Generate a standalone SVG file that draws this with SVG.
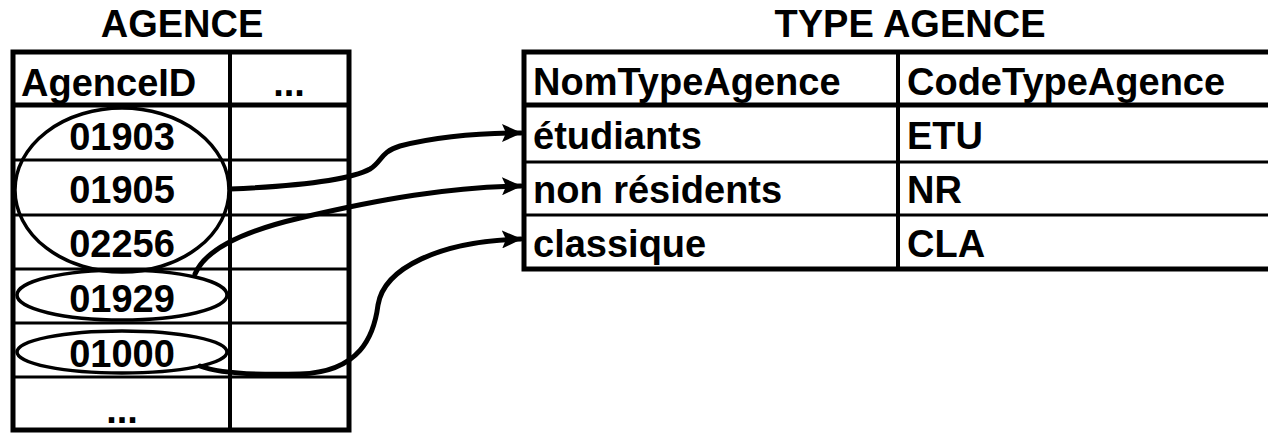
<svg xmlns="http://www.w3.org/2000/svg" width="1268" height="433" viewBox="0 0 1268 433">
  <style>
    text { font-family: "Liberation Sans", Arial, Helvetica, sans-serif; font-weight: bold; font-size: 38px; fill: #000; }
    .mid { text-anchor: middle; }
    .frame { fill: none; stroke: #000; stroke-width: 5; }
    .rule { stroke: #000; stroke-width: 3; }
    .head { stroke: #000; stroke-width: 5; }
    .col { stroke: #000; stroke-width: 4; }
    .ring { fill: none; stroke: #000; stroke-width: 3.5; }
    .link { fill: none; stroke: #000; stroke-width: 5; stroke-linecap: round; marker-end: url(#arrow); }
  </style>
  <defs>
    <marker id="arrow" markerWidth="20" markerHeight="18" refX="19" refY="9" orient="auto" markerUnits="userSpaceOnUse">
      <path d="M0,0 L20,9 L0,18 L4,9 z" fill="#000"/>
    </marker>
  </defs>

  <!-- AGENCE table -->
  <g id="agence">
    <text class="mid" x="182" y="37">AGENCE</text>
    <rect class="frame" x="13" y="52" width="336" height="378"/>
    <line class="col" x1="230" y1="52" x2="230" y2="430"/>
    <line class="head" x1="13" y1="105" x2="349" y2="105"/>
    <line class="rule" x1="13" y1="160" x2="349" y2="160"/>
    <line class="rule" x1="13" y1="215" x2="349" y2="215"/>
    <line class="rule" x1="13" y1="269" x2="349" y2="269"/>
    <line class="rule" x1="13" y1="323" x2="349" y2="323"/>
    <line class="rule" x1="13" y1="377" x2="349" y2="377"/>
    <text x="21" y="96">AgenceID</text>
    <text class="mid" x="289" y="96">...</text>
    <text class="mid" x="122" y="150">01903</text>
    <text class="mid" x="122" y="203">01905</text>
    <text class="mid" x="122" y="257">02256</text>
    <text class="mid" x="122" y="312">01929</text>
    <text class="mid" x="122" y="367">01000</text>
    <text class="mid" x="122" y="423">...</text>
  </g>

  <!-- groupings of AgenceID values -->
  <g id="groups">
    <ellipse class="ring" cx="122" cy="190" rx="107" ry="82"/>
    <ellipse class="ring" cx="122" cy="295" rx="105" ry="25"/>
    <ellipse class="ring" cx="122" cy="352" rx="105" ry="21"/>
  </g>

  <!-- TYPE AGENCE table -->
  <g id="type-agence">
    <text class="mid" x="910" y="37">TYPE AGENCE</text>
    <rect class="frame" x="524" y="52" width="760" height="217"/>
    <line class="col" x1="898" y1="52" x2="898" y2="269"/>
    <line class="head" x1="524" y1="105" x2="1268" y2="105"/>
    <line class="rule" x1="524" y1="162" x2="1268" y2="162"/>
    <line class="rule" x1="524" y1="215" x2="1268" y2="215"/>
    <text x="533" y="95">NomTypeAgence</text>
    <text x="907" y="95">CodeTypeAgence</text>
    <text x="533" y="149">étudiants</text>
    <text x="907" y="149">ETU</text>
    <text x="533" y="203">non résidents</text>
    <text x="907" y="203">NR</text>
    <text x="533" y="257">classique</text>
    <text x="907" y="257">CLA</text>
  </g>

  <!-- connectors -->
  <g id="links">
    <path class="link" d="M230,189 C300,186 350,180 370,169 C382,162 380,152 400,146 C440,136 480,133 521,133"/>
    <path class="link" d="M195,274 C205,250 240,232 300,218 C380,199 450,187 521,186"/>
    <path class="link" d="M200,366 C220,374 260,375 300,374 C360,372 374,336 378,305 C384,268 440,241 521,239"/>
  </g>
</svg>
